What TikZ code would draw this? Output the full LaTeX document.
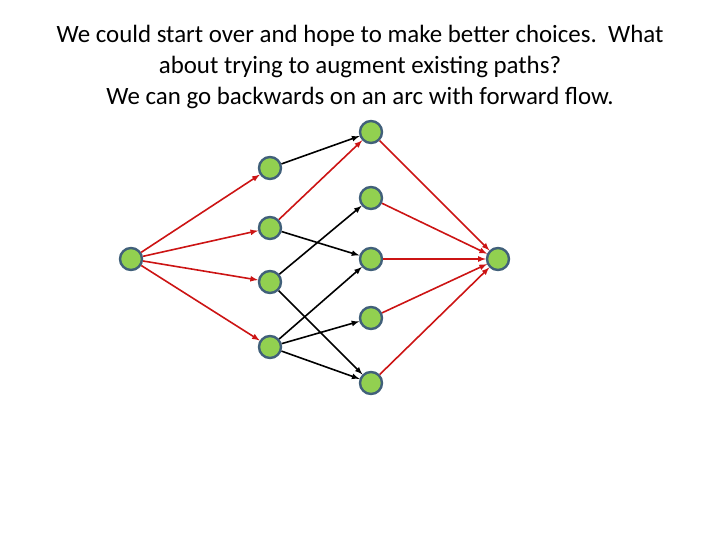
\documentclass[tikz,border=0pt]{standalone}
\usepackage{fontspec}
\setmainfont{Carlito}
\begin{document}
\begin{tikzpicture}[x=1bp,y=-1bp,
  vert/.style={circle,fill={rgb,255:red,146;green,208;blue,80},draw={rgb,255:red,65;green,96;blue,122},line width=2.4bp,minimum size=22bp,inner sep=0},
  redarc/.style={draw={rgb,255:red,204;green,20;blue,20},line width=1.6bp,-latex},
  blkarc/.style={draw=black,line width=1.6bp,-latex}]
\useasboundingbox (0,0) rectangle (720,540);
\node[align=center,font=\fontsize{25}{31.5}\selectfont] (title) at (360,67) {We could start over and hope to make better choices.\ \ What\\about trying to augment existing paths?\\We can go backwards on an arc with forward flow.};
\node[vert] (s) at (131,259) {};
\node[vert] (a1) at (270,168) {};
\node[vert] (a2) at (270,228) {};
\node[vert] (a3) at (270,282) {};
\node[vert] (a4) at (270,347) {};
\node[vert] (b1) at (371,132) {};
\node[vert] (b2) at (371,198) {};
\node[vert] (b3) at (371,259) {};
\node[vert] (b4) at (371,318) {};
\node[vert] (b5) at (371,383) {};
\node[vert] (t) at (498,259) {};
\foreach \a in {a1,a2,a3,a4} \draw[redarc] (s) -- (\a);
\draw[redarc] (a2) -- (b1);
\foreach \b in {b1,b2,b3,b4,b5} \draw[redarc] (\b) -- (t);
\draw[blkarc] (a1) -- (b1);
\draw[blkarc] (a2) -- (b3);
\draw[blkarc] (a3) -- (b2);
\draw[blkarc] (a3) -- (b5);
\draw[blkarc] (a4) -- (b3);
\draw[blkarc] (a4) -- (b4);
\draw[blkarc] (a4) -- (b5);
\end{tikzpicture}
\end{document}
